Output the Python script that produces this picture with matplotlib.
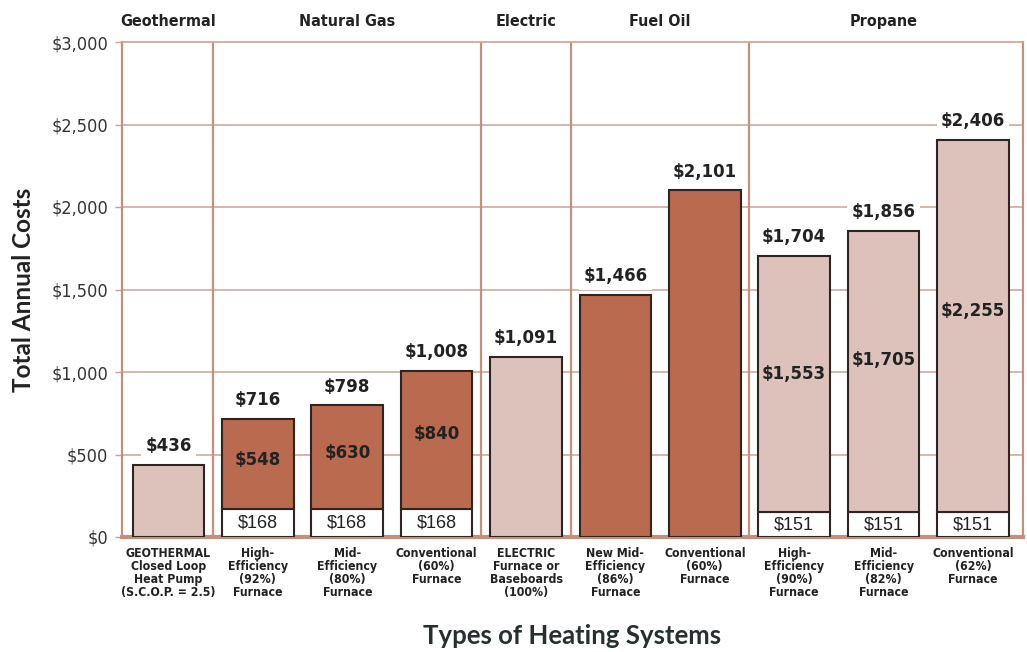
import matplotlib
matplotlib.use("Agg")
import matplotlib.pyplot as plt
import numpy as np

# ---- data ----
groups = ["Geothermal", "Natural Gas", "Electric", "Fuel Oil", "Propane"]
group_sizes = [1, 3, 1, 2, 3]
categories = [
    "GEOTHERMAL\nClosed Loop\nHeat Pump\n(S.C.O.P. = 2.5)",
    "High-\nEfficiency\n(92%)\nFurnace",
    "Mid-\nEfficiency\n(80%)\nFurnace",
    "Conventional\n(60%)\nFurnace",
    "ELECTRIC\nFurnace or\nBaseboards\n(100%)",
    "New Mid-\nEfficiency\n(86%)\nFurnace",
    "Conventional\n(60%)\nFurnace",
    "High-\nEfficiency\n(90%)\nFurnace",
    "Mid-\nEfficiency\n(82%)\nFurnace",
    "Conventional\n(62%)\nFurnace",
]
base_costs = [0, 168, 168, 168, 0, 0, 0, 151, 151, 151]        # white base segment
fuel_costs = [436, 548, 630, 840, 1091, 1466, 2101, 1553, 1705, 2255]
totals = [436, 716, 798, 1008, 1091, 1466, 2101, 1704, 1856, 2406]
fuel_type = ["light", "dark", "dark", "dark", "light", "dark", "dark", "light", "light", "light"]
y_ticks = [0, 500, 1000, 1500, 2000, 2500, 3000]

# ---- style ----
DARK = "#b96a4f"
LIGHT = "#dcc2ba"
EDGE = "#2e2522"
SEP = "#c4907c"
GRID = "#c9a397"
TXT = "#222222"
COND = dict(family="DejaVu Sans", fontstretch="condensed")

fig = plt.figure(figsize=(10.27, 6.52), dpi=100)
ax = fig.add_axes([122/1027, 1 - 537/652, (1023-122)/1027, (537-42)/652])

x = np.arange(len(categories))
width = 0.80
colors = [DARK if t == "dark" else LIGHT for t in fuel_type]

# base segments
for xi, b in zip(x, base_costs):
    if b > 0:
        ax.bar(xi, b, width, color="white", edgecolor=EDGE, linewidth=1.5, zorder=3)
        ax.text(xi, b / 2, f"${b:,}", ha="center", va="center", fontsize=13,
                family="Liberation Sans", color=TXT, zorder=4)
ax.bar(x, fuel_costs, width, bottom=base_costs, color=colors, edgecolor=EDGE,
       linewidth=1.5, zorder=3)

# inner labels for stacked bars
for xi, b, f in zip(x, base_costs, fuel_costs):
    if b > 0:
        ax.text(xi, b + f * 0.54, f"${f:,}", ha="center", va="center", fontsize=12,
                fontweight="bold", family="DejaVu Sans", color=TXT, zorder=4)

# total labels
for xi, t in zip(x, totals):
    ax.annotate(f"${t:,}", (xi, t), xytext=(0, 7), textcoords="offset points",
                ha="center", va="bottom", fontsize=12, fontweight="bold",
                family="DejaVu Sans", color=TXT, zorder=4,
                bbox=dict(boxstyle="square,pad=0.25", fc="white", ec="none"))

# axes limits and grid
ax.set_xlim(-0.52, 9.56)
ax.set_ylim(0, 3000)
ax.set_yticks(y_ticks)
ax.set_yticklabels([f"${v:,}" for v in y_ticks], fontsize=13, color="#333333", **COND)
for v in y_ticks[1:-1]:
    ax.axhline(v, color=GRID, linewidth=1.1, zorder=1)
ax.tick_params(axis="y", length=5, color=GRID, width=1.0, pad=5)

ax.set_xticks(x)
ax.set_xticklabels(categories, fontweight="bold", fontsize=8.8, color=TXT,
                   linespacing=1.0, **COND)
ax.tick_params(axis="x", length=0, pad=7)

# group separators and group labels
bounds = np.cumsum([0] + group_sizes)
for b in bounds[1:-1]:
    ax.axvline(b - 0.5, color=SEP, linewidth=1.6, zorder=2)
for g, s, e in zip(groups, bounds[:-1], bounds[1:]):
    ax.text((s + e - 1) / 2, 1.033, g, transform=ax.get_xaxis_transform(),
            ha="center", va="baseline", fontsize=11.5, fontweight="bold",
            color=TXT, **COND)

for side in ["left", "right"]:
    ax.spines[side].set_color(SEP)
    ax.spines[side].set_linewidth(1.6)
ax.spines["bottom"].set_color(SEP)
ax.spines["bottom"].set_linewidth(3)
ax.spines["top"].set_color(GRID)
ax.spines["top"].set_linewidth(1.2)

ax.set_ylabel("Total Annual Costs", family="Lato", fontweight="bold",
              fontsize=17.5, color=TXT, labelpad=12)
ax.set_xlabel("Types of Heating Systems", family="Lato", fontweight="bold",
              fontsize=18.5, color="#263030", labelpad=18)

fig.savefig("out.png", dpi=100, facecolor="white")
